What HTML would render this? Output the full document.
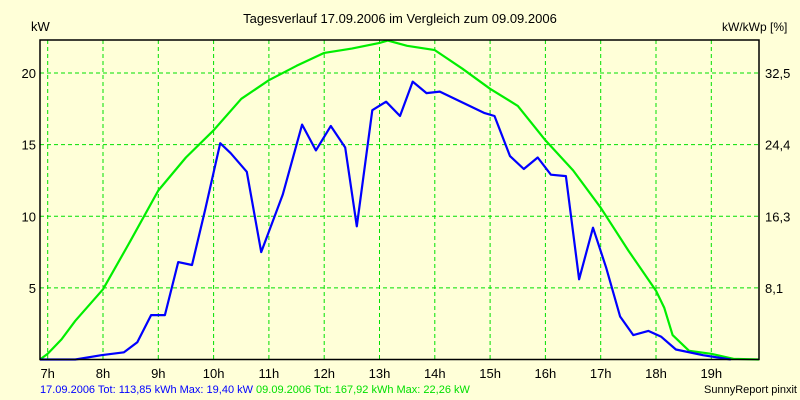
<!DOCTYPE html>
<html><head><meta charset="utf-8"><style>
body{margin:0;background:#ffffd8;}
svg{display:block;font-family:"Liberation Sans",sans-serif;font-size:12px;}
</style></head><body>
<svg id="chart" width="800" height="400">
<rect x="0" y="0" width="800" height="400" fill="#ffffd8"/>
<text x="400" y="23" text-anchor="middle" font-size="13">Tagesverlauf 17.09.2006 im Vergleich zum 09.09.2006</text>
<text x="31" y="31" font-size="13">kW</text>
<text x="722" y="31">kW/kWp [%]</text>
<g id="grid"></g>
<g id="series"></g>
<rect x="40" y="40" width="719" height="319.5" fill="none" stroke="#000" stroke-width="1.5"/>
<g id="labels"></g>
<text x="40" y="393" font-size="11"><tspan fill="#0000ff">17.09.2006 Tot: 113,85 kWh Max: 19,40 kW</tspan><tspan fill="#00e000"> 09.09.2006 Tot: 167,92 kWh Max: 22,26 kW</tspan></text>
<text x="797" y="393" text-anchor="end" font-size="11">SunnyReport pinxit</text>
</svg>
<script>
const hourTicks=[7,8,9,10,11,12,13,14,15,16,17,18,19];
const yTicks=[5,10,15,20];
const rightTickLabels=["8,1","16,3","24,4","32,5"];
const blueT=[6.86,7.5,7.97,8.38,8.62,8.87,9.12,9.36,9.61,9.85,10.12,10.31,10.6,10.86,11.25,11.6,11.85,12.12,12.38,12.59,12.87,13.12,13.37,13.6,13.85,14.09,14.9,15.08,15.36,15.61,15.86,16.1,16.37,16.61,16.86,17.1,17.35,17.59,17.86,18.09,18.36,18.85,19.35];
const blueV=[0,0,0.3,0.5,1.2,3.1,3.1,6.8,6.6,10.5,15.1,14.4,13.1,7.5,11.5,16.4,14.6,16.3,14.8,9.3,17.4,18.0,17.0,19.4,18.6,18.7,17.2,17.0,14.2,13.3,14.1,12.9,12.8,5.6,9.2,6.4,3.0,1.7,2.0,1.6,0.7,0.3,0];
const greenT=[6.86,7.0,7.25,7.5,8.0,8.5,9.0,9.5,10.0,10.5,11.0,11.5,12.0,12.5,13.0,13.15,13.5,14.0,14.5,15.0,15.5,16.0,16.5,17.0,17.5,18.0,18.15,18.3,18.6,19.0,19.4,19.86];
const greenV=[0,0.4,1.4,2.7,4.9,8.3,11.8,14.1,16.0,18.2,19.5,20.5,21.4,21.7,22.1,22.26,21.9,21.6,20.3,18.9,17.7,15.3,13.2,10.6,7.6,4.8,3.6,1.7,0.6,0.4,0.05,0];
const X=t=>47.7+(t-7)*55.3;
const Y=v=>359.5-v*14.325;
const NS="http://www.w3.org/2000/svg";
const grid=document.getElementById('grid'),lab=document.getElementById('labels'),ser=document.getElementById('series');
function mk(tag,attrs,parent){const e=document.createElementNS(NS,tag);for(const k in attrs)e.setAttribute(k,attrs[k]);parent.appendChild(e);return e;}
hourTicks.forEach(h=>{
 const l=mk('line',{x1:X(h),x2:X(h),y1:40,y2:359,stroke:'#00e000','stroke-dasharray':'4,3'},grid);
 
 
 const t=mk('text',{x:X(h),y:378,'text-anchor':'middle','font-size':13},lab);t.textContent=h+'h';
 
 
});
yTicks.forEach((v,i)=>{
 const l=mk('line',{x1:40,x2:759,y1:Y(v),y2:Y(v),stroke:'#00e000','stroke-dasharray':'4,3'},grid);
 
 
 const t=mk('text',{x:36,y:Y(v)+5,'text-anchor':'end','font-size':13},lab);t.textContent=v;
 
 
 const r=mk('text',{x:765,y:Y(v)+5,'font-size':13},lab);r.textContent=rightTickLabels[i];
 
 
});
function line(ts,vs,color,name){
 const p=mk('polyline',{points:ts.map((t,i)=>X(t).toFixed(1)+','+Y(vs[i]).toFixed(1)).join(' '),fill:'none',stroke:color,'stroke-width':2.2,'stroke-linejoin':'round'},ser);
 
 
}
line(greenT,greenV,'#00ee00','series-09-09-2006');
line(blueT,blueV,'#0000ff','series-17-09-2006');
</script>
</body></html>
